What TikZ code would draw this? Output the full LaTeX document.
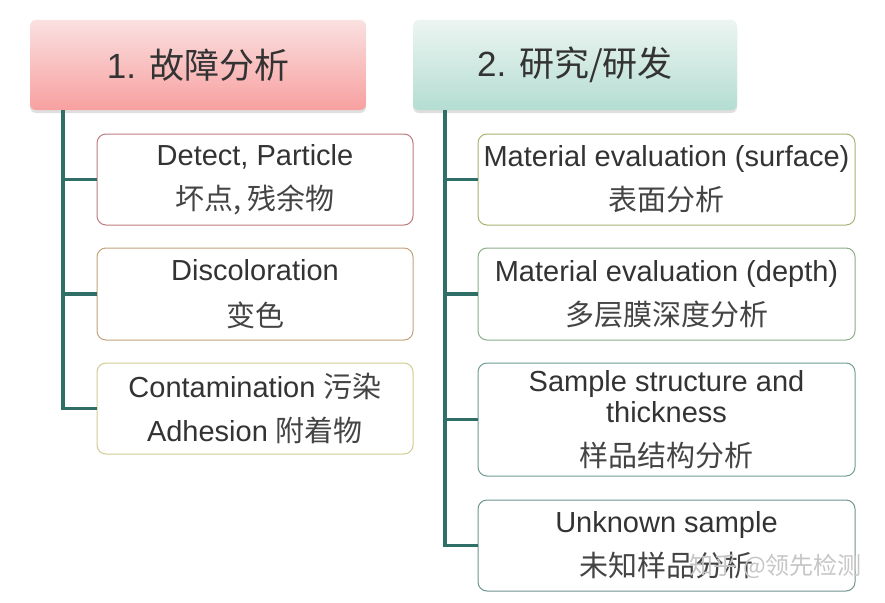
\documentclass[tikz,border=0pt]{standalone}
\usepackage{fontspec}
\setmainfont{Liberation Sans}
\newfontfamily\cjk{Noto Sans CJK SC}
\usetikzlibrary{shadows}
\definecolor{trunk}{HTML}{2F6F67}
\definecolor{txt}{HTML}{333333}
\definecolor{cjktxt}{HTML}{444444}
\definecolor{bL1}{HTML}{C07A80}
\definecolor{bL2}{HTML}{C4A27A}
\definecolor{bL3}{HTML}{D2CC92}
\definecolor{bR1}{HTML}{A8B272}
\definecolor{bR2}{HTML}{8AAE88}
\definecolor{bR3}{HTML}{6E9E94}
\definecolor{bR4}{HTML}{6F9590}
\tikzset{
  hdr/.style={rounded corners=6pt, minimum height=90pt, inner sep=0pt,
     text=txt, font=\fontsize{35}{40}\selectfont,
     drop shadow={shadow xshift=0pt, shadow yshift=-3pt, opacity=0.25}},
  itembox/.style={draw, line width=1pt, rounded corners=9pt, fill=white,
     inner sep=0pt, text=txt, align=center, font=\fontsize{29}{31}\selectfont},
  conn/.style={draw=trunk, line width=3.2pt}
}
\begin{document}
\begin{tikzpicture}[x=1pt,y=-1pt]
\useasboundingbox (0,0) rectangle (885,602);
\fill[white] (0,0) rectangle (885,602);
% headers
\node[hdr, top color={rgb,255:red,250;green,224;blue,224}, bottom color={rgb,255:red,248;green,160;blue,160}, minimum width=336pt] (h1) at (198,65) {1. {\cjk 故障分析}};
\node[hdr, top color={rgb,255:red,236;green,245;blue,241}, bottom color={rgb,255:red,180;green,221;blue,210}, minimum width=324pt] (h2) at (575,65) {2. {\cjk 研究/研发}};
% left boxes
\node[itembox, draw=bL1, minimum width=316pt, minimum height=91pt] (l1) at (255,179.5) {Detect, Particle\\[13pt]{\color{cjktxt}\cjk 坏点, 残余物}};
\node[itembox, draw=bL2, minimum width=316pt, minimum height=92pt] (l2) at (255,294) {Discoloration\\[15pt]{\color{cjktxt}\cjk 变色}};
\node[itembox, draw=bL3, minimum width=316pt, minimum height=91pt] (l3) at (255,408.5) {Contamination {\color{cjktxt}\cjk 污染}\\[13pt]Adhesion {\color{cjktxt}\cjk 附着物}};
% right boxes
\node[itembox, draw=bR1, minimum width=377pt, minimum height=91pt] (r1) at (666.5,179.5) {Material evaluation (surface)\\[13pt]{\color{cjktxt}\cjk 表面分析}};
\node[itembox, draw=bR2, minimum width=377pt, minimum height=92pt] (r2) at (666.5,294) {Material evaluation (depth)\\[13pt]{\color{cjktxt}\cjk 多层膜深度分析}};
\node[itembox, draw=bR3, minimum width=377pt, minimum height=113pt] (r3) at (666.5,419.5) {Sample structure and\\thickness\\[13pt]{\color{cjktxt}\cjk 样品结构分析}};
\node[itembox, draw=bR4, minimum width=377pt, minimum height=91pt] (r4) at (666.5,545.5) {Unknown sample\\[13pt]{\color{cjktxt}\cjk 未知样品分析}};
% connectors
\coordinate (lt) at (63,110);
\coordinate (rt) at (445,110);
\draw[conn] (lt) |- (l3.west);
\draw[conn] (lt |- l1.west) -- (l1.west);
\draw[conn] (lt |- l2.west) -- (l2.west);
\draw[conn] (rt) |- (r4.west);
\draw[conn] (rt |- r1.west) -- (r1.west);
\draw[conn] (rt |- r2.west) -- (r2.west);
\draw[conn] (rt |- r3.west) -- (r3.west);
% watermark
\node[text=gray!45, font=\cjk\fontsize{24}{28}\selectfont, anchor=east, inner sep=0pt] (wm) at (862,566) {知乎 @领先检测};
\end{tikzpicture}
\end{document}
